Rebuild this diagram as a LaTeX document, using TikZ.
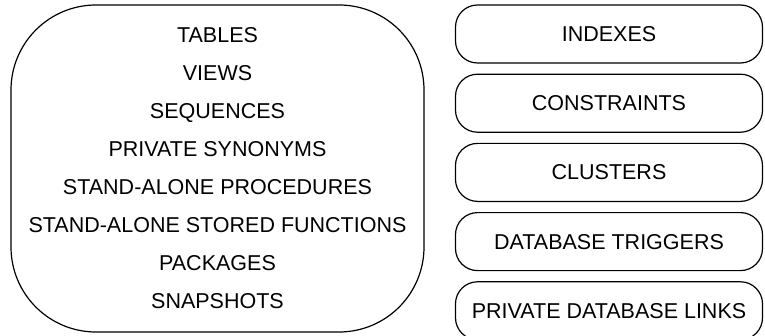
\documentclass[tikz,border=0pt]{standalone}
\usepackage{fontspec}
\setmainfont{Liberation Sans}
\usetikzlibrary{positioning}
\tikzstyle{schema} = [draw,line width=1.2pt,rounded corners=85pt,minimum width=413pt,minimum height=327pt,align=center,font=\fontsize{21.5}{38}\selectfont]
\tikzstyle{obj} = [draw,line width=1.2pt,rounded corners=22pt,minimum width=307pt,minimum height=58pt,font=\fontsize{21.5}{24}\selectfont]

\begin{document}
\begin{tikzpicture}[x=1pt,y=1pt,node distance=10pt]
   \useasboundingbox (0,0) rectangle (765,335);
   \node[schema] (objects) at (217.5,166.5) {TABLES\\VIEWS\\SEQUENCES\\PRIVATE SYNONYMS\\STAND-ALONE PROCEDURES\\STAND-ALONE STORED FUNCTIONS\\PACKAGES\\SNAPSHOTS};
   \node[obj] (indexes) at (609,301) {INDEXES};
   \node[obj] (constraints) [below=of indexes] {CONSTRAINTS};
   \node[obj] (clusters) [below=of constraints] {CLUSTERS};
   \node[obj] (triggers) [below=of clusters] {DATABASE TRIGGERS};
   \node[obj] (links) [below=of triggers] {PRIVATE DATABASE LINKS};
\end{tikzpicture}
\end{document}
